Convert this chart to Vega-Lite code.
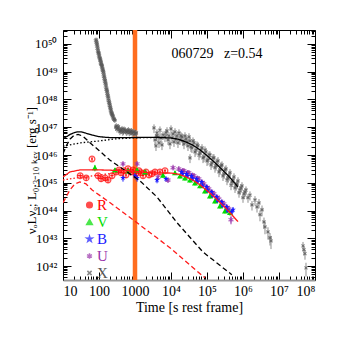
{
"$schema":"https://vega.github.io/schema/vega-lite/v6.json",
"width":252,"height":250,"autosize":"none",
"padding":{"left":63,"top":30,"right":29,"bottom":64},
"config":{"view":{"stroke":null},"font":"Liberation Serif",
 "axis":{"labelFont":"Liberation Serif","titleFont":"Liberation Serif","labelColor":"black","titleColor":"black","tickColor":"black","domainColor":"black","grid":false,"titleFontWeight":"normal"},
 "legend":{"orient":"none","legendX":19,"legendY":169,"labelFont":"Liberation Serif","labelFontSize":15,"symbolSize":32,"symbolStrokeWidth":1.5,"clipHeight":12,"rowPadding":2,"labelOffset":0,"padding":0}},
"datasets":{
"band":[{"t":1000}],
"note":[{"t":190000,"L":4.4e49,"txt":"060729\u00a0\u00a0\u00a0z=0.54"}],
"models":[
{"g":"X","c":"tot","t":10,"L":3.8e46},{"g":"X","c":"tot","t":12.6,"L":4.6e46},{"g":"X","c":"tot","t":15.8,"L":5.5e46},{"g":"X","c":"tot","t":20,"L":6.3e46},{"g":"X","c":"tot","t":25,"L":6.8e46},{"g":"X","c":"tot","t":31.6,"L":6.8e46},{"g":"X","c":"tot","t":39.8,"L":6.3e46},{"g":"X","c":"tot","t":50,"L":5.75e46},{"g":"X","c":"tot","t":63,"L":5.25e46},{"g":"X","c":"tot","t":79,"L":4.9e46},{"g":"X","c":"tot","t":100,"L":4.6e46},{"g":"X","c":"tot","t":158,"L":4.3e46},{"g":"X","c":"tot","t":251,"L":4.2e46},{"g":"X","c":"tot","t":631,"L":4.2e46},{"g":"X","c":"tot","t":1585,"L":4.3e46},{"g":"X","c":"tot","t":3981,"L":4.3e46},{"g":"X","c":"tot","t":10000,"L":4.1e46},{"g":"X","c":"tot","t":15850,"L":3.7e46},{"g":"X","c":"tot","t":25120,"L":3.0e46},{"g":"X","c":"tot","t":39810,"L":2.3e46},{"g":"X","c":"tot","t":63100,"L":1.55e46},{"g":"X","c":"tot","t":100000,"L":9.5e45},{"g":"X","c":"tot","t":158500,"L":5.6e45},{"g":"X","c":"tot","t":251200,"L":3.16e45},{"g":"X","c":"tot","t":398100,"L":1.74e45},{"g":"X","c":"tot","t":726000,"L":7.1e44},
{"g":"X","c":"aft","t":10,"L":2.1e46},{"g":"X","c":"aft","t":31.6,"L":2.75e46},{"g":"X","c":"aft","t":100,"L":3.2e46},{"g":"X","c":"aft","t":275,"L":3.8e46},{"g":"X","c":"aft","t":1000,"L":4.15e46},{"g":"X","c":"aft","t":3000,"L":4.25e46},
{"g":"X","c":"pr","t":10,"L":1.12e46},{"g":"X","c":"pr","t":12.6,"L":2.24e46},{"g":"X","c":"pr","t":15.8,"L":3.8e46},{"g":"X","c":"pr","t":20,"L":5.0e46},{"g":"X","c":"pr","t":26.3,"L":5.5e46},{"g":"X","c":"pr","t":35.5,"L":4.8e46},{"g":"X","c":"pr","t":56.2,"L":2.75e46},{"g":"X","c":"pr","t":100,"L":1.45e46},{"g":"X","c":"pr","t":200,"L":6.6e45},{"g":"X","c":"pr","t":603,"L":2.45e45},{"g":"X","c":"pr","t":1380,"L":1.17e45},{"g":"X","c":"pr","t":4070,"L":3.1e44},{"g":"X","c":"pr","t":14800,"L":3.6e43},{"g":"X","c":"pr","t":77600,"L":3.2e42},{"g":"X","c":"pr","t":490000,"L":4.9e41},
{"g":"O","c":"tot","t":10,"L":1.62e45},{"g":"O","c":"tot","t":15.5,"L":2.45e45},{"g":"O","c":"tot","t":29.5,"L":2.9e45},{"g":"O","c":"tot","t":107,"L":2.9e45},{"g":"O","c":"tot","t":724,"L":2.7e45},{"g":"O","c":"tot","t":2630,"L":2.3e45},{"g":"O","c":"tot","t":10000,"L":2.24e45},{"g":"O","c":"tot","t":15850,"L":2.04e45},{"g":"O","c":"tot","t":25120,"L":1.66e45},{"g":"O","c":"tot","t":39810,"L":1.26e45},{"g":"O","c":"tot","t":63100,"L":8.5e44},{"g":"O","c":"tot","t":100000,"L":5.25e44},{"g":"O","c":"tot","t":158500,"L":3.1e44},{"g":"O","c":"tot","t":251200,"L":1.74e44},{"g":"O","c":"tot","t":398100,"L":9.5e43},{"g":"O","c":"tot","t":726000,"L":4.0e43},
{"g":"O","c":"aft","t":10,"L":1.26e45},{"g":"O","c":"aft","t":31.6,"L":1.58e45},{"g":"O","c":"aft","t":100,"L":1.9e45},{"g":"O","c":"aft","t":251,"L":2.24e45},{"g":"O","c":"aft","t":1000,"L":2.5e45},{"g":"O","c":"aft","t":2630,"L":2.3e45},
{"g":"O","c":"pr","t":10,"L":1.9e44},{"g":"O","c":"pr","t":15.5,"L":5.5e44},{"g":"O","c":"pr","t":21.4,"L":9.1e44},{"g":"O","c":"pr","t":29.5,"L":1.07e45},{"g":"O","c":"pr","t":43.6,"L":9.1e44},{"g":"O","c":"pr","t":64.6,"L":5.5e44},{"g":"O","c":"pr","t":204,"L":1.9e44},{"g":"O","c":"pr","t":871,"L":4.7e43},{"g":"O","c":"pr","t":9330,"L":4.6e42},{"g":"O","c":"pr","t":87100,"L":3.8e41}
],
"pts":[
{"b":"X","t":83,"L":1.41e50,"e":2.8e49,"te":12},{"b":"X","t":85,"L":1.2e50,"e":2.4e49,"te":13},{"b":"X","t":87,"L":1.05e50,"e":2.1e49,"te":13},{"b":"X","t":89,"L":9e49,"e":1.8e49,"te":13},{"b":"X","t":91,"L":7.6e49,"e":1.5e49,"te":14},{"b":"X","t":93,"L":6.3e49,"e":1.3e49,"te":14},{"b":"X","t":95.5,"L":5.2e49,"e":1.04e49,"te":14},{"b":"X","t":97.7,"L":4.8e49,"e":9.6e48,"te":15},{"b":"X","t":100,"L":4.2e49,"e":8.4e48,"te":15},{"b":"X","t":102,"L":3.6e49,"e":7.2e48,"te":15},{"b":"X","t":105,"L":3.16e49,"e":6.3e48,"te":16},{"b":"X","t":107,"L":2.9e49,"e":5.8e48,"te":16},{"b":"X","t":110,"L":2.6e49,"e":5.2e48,"te":16},{"b":"X","t":112,"L":2.3e49,"e":4.6e48,"te":17},{"b":"X","t":115,"L":2.0e49,"e":4e48,"te":17},{"b":"X","t":117,"L":1.8e49,"e":3.6e48,"te":18},{"b":"X","t":120,"L":1.66e49,"e":3.3e48,"te":18},{"b":"X","t":123,"L":1.45e49,"e":2.9e48,"te":18},{"b":"X","t":126,"L":1.26e49,"e":2.5e48,"te":19},{"b":"X","t":129,"L":1.12e49,"e":2.2e48,"te":19},{"b":"X","t":132,"L":1.0e49,"e":2e48,"te":20},{"b":"X","t":135,"L":8.5e48,"e":1.7e48,"te":20},{"b":"X","t":138,"L":7.1e48,"e":1.4e48,"te":21},{"b":"X","t":141,"L":6.2e48,"e":1.2e48,"te":21},{"b":"X","t":145,"L":5.2e48,"e":1.04e48,"te":22},{"b":"X","t":148,"L":4.6e48,"e":9.2e47,"te":22},{"b":"X","t":151,"L":4.0e48,"e":8e47,"te":23},{"b":"X","t":155,"L":3.4e48,"e":6.8e47,"te":23},{"b":"X","t":158,"L":2.8e48,"e":5.6e47,"te":24},{"b":"X","t":162,"L":2.4e48,"e":4.8e47,"te":24},{"b":"X","t":166,"L":2.1e48,"e":4.2e47,"te":25},{"b":"X","t":170,"L":1.8e48,"e":3.6e47,"te":25},{"b":"X","t":174,"L":1.5e48,"e":3e47,"te":26},{"b":"X","t":178,"L":1.3e48,"e":2.6e47,"te":27},{"b":"X","t":182,"L":1.12e48,"e":2.2e47,"te":27},{"b":"X","t":186,"L":9.5e47,"e":1.9e47,"te":28},{"b":"X","t":191,"L":8.3e47,"e":1.7e47,"te":29},{"b":"X","t":195,"L":7.2e47,"e":1.4e47,"te":29},{"b":"X","t":200,"L":6.3e47,"e":1.3e47,"te":30},{"b":"X","t":204,"L":5.5e47,"e":1.1e47,"te":31},{"b":"X","t":209,"L":4.8e47,"e":9.6e46,"te":31},{"b":"X","t":214,"L":4.2e47,"e":8.4e46,"te":32},{"b":"X","t":219,"L":3.6e47,"e":7.2e46,"te":33},{"b":"X","t":224,"L":3.3e47,"e":6.6e46,"te":34},{"b":"X","t":229,"L":3.0e47,"e":6e46,"te":34},{"b":"X","t":234,"L":2.8e47,"e":5.6e46,"te":35},{"b":"X","t":240,"L":2.6e47,"e":5.2e46,"te":36},{"b":"X","t":248,"L":2.3e47,"e":4.6e46,"te":37},{"b":"X","t":257,"L":2.0e47,"e":4e46,"te":38},{"b":"X","t":266,"L":1.9e47,"e":3.8e46,"te":40},{"b":"X","t":275,"L":1.78e47,"e":3.6e46,"te":41},
{"b":"X","t":290,"L":1.0e47,"e":2.5e46,"te":29},{"b":"X","t":302,"L":1.12e47,"e":2.8e46,"te":30},{"b":"X","t":316,"L":8.5e46,"e":2.1e46,"te":32},{"b":"X","t":331,"L":9.5e46,"e":2.4e46,"te":33},{"b":"X","t":347,"L":1.05e47,"e":2.6e46,"te":35},{"b":"X","t":363,"L":8.3e46,"e":2.1e46,"te":36},{"b":"X","t":380,"L":7e46,"e":1.8e46,"te":38},{"b":"X","t":398,"L":7.6e46,"e":1.9e46,"te":40},{"b":"X","t":417,"L":8e46,"e":2e46,"te":42},{"b":"X","t":437,"L":8.9e46,"e":2.2e46,"te":44},{"b":"X","t":457,"L":6.5e46,"e":1.6e46,"te":46},{"b":"X","t":479,"L":7.1e46,"e":1.8e46,"te":48},{"b":"X","t":501,"L":8.5e46,"e":2.1e46,"te":50},{"b":"X","t":525,"L":7.9e46,"e":2e46,"te":52},{"b":"X","t":550,"L":7.3e46,"e":1.8e46,"te":55},{"b":"X","t":575,"L":6.6e46,"e":1.7e46,"te":58},{"b":"X","t":603,"L":6.8e46,"e":1.7e46,"te":60},{"b":"X","t":631,"L":7.6e46,"e":1.9e46,"te":63},{"b":"X","t":661,"L":8e46,"e":2e46,"te":66},{"b":"X","t":692,"L":6.3e46,"e":1.6e46,"te":69},{"b":"X","t":724,"L":6.5e46,"e":1.6e46,"te":72},{"b":"X","t":759,"L":7.1e46,"e":1.8e46,"te":76},{"b":"X","t":794,"L":7.5e46,"e":1.9e46,"te":79},{"b":"X","t":832,"L":6.0e46,"e":1.5e46,"te":83},{"b":"X","t":870,"L":6.2e46,"e":1.6e46,"te":87},{"b":"X","t":912,"L":6.6e46,"e":1.7e46,"te":91},{"b":"X","t":955,"L":7e46,"e":1.8e46,"te":95},{"b":"X","t":1000,"L":5.6e46,"e":1.4e46,"te":100},{"b":"X","t":1047,"L":6e46,"e":1.5e46,"te":105},{"b":"X","t":1096,"L":6.3e46,"e":1.6e46,"te":110},
{"b":"X","t":3373,"L":9.4e46,"e":3.3e46,"te":337},{"b":"X","t":3597,"L":3.5e46,"e":1.2e46,"te":360},{"b":"X","t":3828,"L":2.14e46,"e":7.5e45,"te":383},{"b":"X","t":3955,"L":4.9e46,"e":1.7e46,"te":395},{"b":"X","t":4083,"L":6.2e46,"e":2.2e46,"te":408},{"b":"X","t":4355,"L":4.5e46,"e":1.6e46,"te":436},{"b":"X","t":4645,"L":2.75e46,"e":9.6e45,"te":465},{"b":"X","t":4943,"L":7.9e46,"e":2.8e46,"te":494},{"b":"X","t":5272,"L":4.1e46,"e":1.4e46,"te":527},{"b":"X","t":5623,"L":2.3e46,"e":8e45,"te":562},{"b":"X","t":5998,"L":5.25e46,"e":1.8e46,"te":600},{"b":"X","t":6810,"L":4.5e46,"e":1.6e46,"te":681},{"b":"X","t":7260,"L":6.2e46,"e":2.2e46,"te":726},{"b":"X","t":7745,"L":7.4e46,"e":2.6e46,"te":775},{"b":"X","t":8260,"L":3.5e46,"e":1.2e46,"te":826},{"b":"X","t":8790,"L":4.9e46,"e":1.7e46,"te":879},{"b":"X","t":9380,"L":2.5e46,"e":8.8e45,"te":938},{"b":"X","t":10000,"L":8.7e46,"e":3e46,"te":1000},{"b":"X","t":10660,"L":4.1e46,"e":1.4e46,"te":1066},{"b":"X","t":11370,"L":5.75e46,"e":2e46,"te":1137},{"b":"X","t":12110,"L":2.95e46,"e":1e46,"te":1211},{"b":"X","t":12910,"L":6.8e46,"e":2.4e46,"te":1291},{"b":"X","t":13770,"L":3.8e46,"e":1.3e46,"te":1377},{"b":"X","t":14690,"L":4.9e46,"e":1.7e46,"te":1469},{"b":"X","t":15630,"L":2.75e46,"e":9.6e45,"te":1563},{"b":"X","t":16670,"L":6.2e46,"e":2.2e46,"te":1667},{"b":"X","t":17780,"L":3.5e46,"e":1.2e46,"te":1778},{"b":"X","t":18970,"L":4.9e46,"e":1.7e46,"te":1897},{"b":"X","t":20230,"L":4.5e46,"e":1.6e46,"te":2023},{"b":"X","t":21540,"L":3.2e46,"e":1.1e46,"te":2154},{"b":"X","t":22960,"L":2.5e46,"e":8.8e45,"te":2296},{"b":"X","t":24480,"L":4.9e46,"e":1.7e46,"te":2448},{"b":"X","t":26120,"L":3.8e46,"e":1.3e46,"te":2612},{"b":"X","t":27830,"L":2.95e46,"e":1e46,"te":2783},{"b":"X","t":29650,"L":2.14e46,"e":7.5e45,"te":2965},{"b":"X","t":31620,"L":4.5e46,"e":1.6e46,"te":3162},{"b":"X","t":33730,"L":3.2e46,"e":1.1e46,"te":3373},{"b":"X","t":33730,"L":7.9e45,"e":2.8e45,"te":3373},{"b":"X","t":35940,"L":1.95e46,"e":6.8e45,"te":3594},{"b":"X","t":38280,"L":1.82e46,"e":6.4e45,"te":3828},{"b":"X","t":40830,"L":3.2e46,"e":1.1e46,"te":4083},{"b":"X","t":43550,"L":2.75e46,"e":9.6e45,"te":4355},{"b":"X","t":46420,"L":1.29e46,"e":4.5e45,"te":4642},{"b":"X","t":49430,"L":1.51e46,"e":5.3e45,"te":4943},{"b":"X","t":52730,"L":2.3e46,"e":8e45,"te":5273},{"b":"X","t":56230,"L":2.14e46,"e":7.5e45,"te":5623},{"b":"X","t":59980,"L":1.0e46,"e":3.5e45,"te":5998},{"b":"X","t":63970,"L":1.2e46,"e":4.2e45,"te":6397},{"b":"X","t":68130,"L":1.51e46,"e":5.3e45,"te":6813},{"b":"X","t":72610,"L":1.82e46,"e":6.4e45,"te":7261},{"b":"X","t":77450,"L":7.9e45,"e":2.8e45,"te":7745},{"b":"X","t":82600,"L":8.5e45,"e":3e45,"te":8260},{"b":"X","t":87990,"L":1.51e46,"e":5.3e45,"te":8799},{"b":"X","t":93760,"L":1.29e46,"e":4.5e45,"te":9376},{"b":"X","t":100000,"L":6.2e45,"e":2.2e45,"te":10000},{"b":"X","t":106700,"L":6.6e45,"e":2.3e45,"te":10670},{"b":"X","t":113700,"L":1.0e46,"e":3.5e45,"te":11370},{"b":"X","t":121100,"L":1.0e46,"e":3.5e45,"te":12110},{"b":"X","t":129200,"L":4.4e45,"e":1.5e45,"te":12920},{"b":"X","t":137700,"L":5.25e45,"e":1.8e45,"te":13770},{"b":"X","t":146900,"L":7.9e45,"e":2.8e45,"te":14690},{"b":"X","t":156300,"L":7.9e45,"e":2.8e45,"te":15630},{"b":"X","t":166800,"L":3.5e45,"e":1.2e45,"te":16680},{"b":"X","t":177800,"L":4.1e45,"e":1.4e45,"te":17780},{"b":"X","t":189700,"L":5.6e45,"e":2e45,"te":18970},{"b":"X","t":202300,"L":6.2e45,"e":2.2e45,"te":20230},{"b":"X","t":215400,"L":2.45e45,"e":8.6e44,"te":21540},{"b":"X","t":229600,"L":2.9e45,"e":1e45,"te":22960},{"b":"X","t":244900,"L":4.1e45,"e":1.4e45,"te":24490},{"b":"X","t":261200,"L":4.4e45,"e":1.5e45,"te":26120},{"b":"X","t":278000,"L":1.78e45,"e":6.2e44,"te":27800},{"b":"X","t":296500,"L":2.1e45,"e":7.4e44,"te":29650},{"b":"X","t":316200,"L":2.9e45,"e":1e45,"te":31620},{"b":"X","t":337300,"L":3.16e45,"e":1.1e45,"te":33730},{"b":"X","t":359700,"L":1.26e45,"e":4.4e44,"te":35970},{"b":"X","t":382800,"L":1.5e45,"e":5.2e44,"te":38280},{"b":"X","t":408300,"L":1.78e45,"e":6.2e44,"te":40830},{"b":"X","t":435500,"L":2.3e45,"e":8e44,"te":43550},{"b":"X","t":464200,"L":8.3e44,"e":2.9e44,"te":46420},{"b":"X","t":494300,"L":1.07e45,"e":3.7e44,"te":49430},{"b":"X","t":527200,"L":1.26e45,"e":4.4e44,"te":52720},{"b":"X","t":562300,"L":1.62e45,"e":5.7e44,"te":56230},{"b":"X","t":599800,"L":6.6e44,"e":2.3e44,"te":59980},{"b":"X","t":639700,"L":7.8e44,"e":2.7e44,"te":63970},{"b":"X","t":680800,"L":9.1e44,"e":3.2e44,"te":68080},{"b":"X","t":726100,"L":1.17e45,"e":4.1e44,"te":72610},{"b":"X","t":774500,"L":4.4e44,"e":1.5e44,"te":77450},{"b":"X","t":826000,"L":5.5e44,"e":1.9e44,"te":82600},{"b":"X","t":879500,"L":6.6e44,"e":2.3e44,"te":87950},{"b":"X","t":937600,"L":7.8e44,"e":2.7e44,"te":93760},{"b":"X","t":1000000,"L":2.9e44,"e":1e44,"te":100000},{"b":"X","t":1067000,"L":4.0e44,"e":1.4e44,"te":106700},{"b":"X","t":1137000,"L":4.7e44,"e":1.6e44,"te":113700},{"b":"X","t":1211000,"L":5.5e44,"e":1.9e44,"te":121100},{"b":"X","t":1377000,"L":2.9e44,"e":1e44,"te":137700},{"b":"X","t":1563000,"L":3.6e44,"e":1.3e44,"te":156300},{"b":"X","t":1778000,"L":1.6e44,"e":6e43,"te":177800},{"b":"X","t":2154000,"L":2.4e44,"e":9e43,"te":215400},{"b":"X","t":2449000,"L":1.35e44,"e":5e43,"te":244900},{"b":"X","t":2780000,"L":1.9e44,"e":7e43,"te":278000},{"b":"X","t":2965000,"L":7.1e43,"e":3e43,"te":296500},{"b":"X","t":3373000,"L":1.07e44,"e":4.5e43,"te":337300},{"b":"X","t":3828000,"L":3.9e43,"e":1.7e43,"te":382800},{"b":"X","t":4083000,"L":2.6e43,"e":1.2e43,"te":408300},{"b":"X","t":4943000,"L":1.7e43,"e":8e42,"te":494300},{"b":"X","t":5623000,"L":1.05e43,"e":5e42,"te":562300},{"b":"X","t":5998000,"L":8.1e42,"e":4e42,"te":599800},{"b":"X","t":46450000,"L":5.4e42,"e":2e42,"te":2000000},{"b":"X","t":49430000,"L":3.9e42,"e":1.5e42,"te":2000000},{"b":"X","t":52720000,"L":2.8e42,"e":1.1e42,"te":2000000},{"b":"X","t":56230000,"L":8.7e41,"e":4.5e41,"te":2000000},
{"b":"R","t":30,"L":1.8e45,"e":3.5e44,"te":5},{"b":"R","t":44,"L":1.5e45,"e":3e44,"te":7},{"b":"R","t":64,"L":7.2e45,"e":1.2e45,"te":4},{"b":"R","t":94,"L":1.8e45,"e":3.5e44,"te":12},{"b":"R","t":114,"L":1.4e45,"e":3e44,"te":15},{"b":"R","t":147,"L":1.5e45,"e":3e44,"te":20},{"b":"R","t":178,"L":1.26e45,"e":2.5e44,"te":22},{"b":"R","t":230,"L":1.8e45,"e":3.5e44,"te":25},{"b":"R","t":297,"L":2.45e45,"e":5e44,"te":30},{"b":"R","t":360,"L":2.9e45,"e":5e44,"te":30},{"b":"R","t":408,"L":2.3e45,"e":4.5e44,"te":35},{"b":"R","t":494,"L":2.7e45,"e":5e44,"te":40},{"b":"R","t":562,"L":1.9e45,"e":4e44,"te":45},{"b":"R","t":640,"L":3.2e45,"e":6e44,"te":50},{"b":"R","t":774,"L":2.45e45,"e":5e44,"te":60},{"b":"R","t":879,"L":2.9e45,"e":5e44,"te":70},{"b":"R","t":1067,"L":2.1e45,"e":4e44,"te":80},{"b":"R","t":1290,"L":2.7e45,"e":5e44,"te":100},{"b":"R","t":1470,"L":2.3e45,"e":4.5e44,"te":110},{"b":"R","t":1670,"L":1.8e45,"e":3.5e44,"te":130},{"b":"R","t":2020,"L":2.45e45,"e":5e44,"te":150},{"b":"R","t":2450,"L":1.9e45,"e":4e44,"te":180},{"b":"R","t":2970,"L":2.1e45,"e":4e44,"te":220},{"b":"R","t":3600,"L":2.45e45,"e":5e44,"te":270},{"b":"R","t":4940,"L":2.45e45,"e":5e44,"te":370},{"b":"R","t":6810,"L":2.7e45,"e":5e44,"te":500},
{"b":"V","t":77,"L":3.5e45,"e":9e44,"te":3},{"b":"V","t":278,"L":2.9e45,"e":5e44,"te":15},{"b":"V","t":640,"L":2.7e45,"e":5e44,"te":30},{"b":"V","t":1140,"L":2.9e45,"e":5e44,"te":50},{"b":"V","t":1900,"L":2.45e45,"e":5e44,"te":80},{"b":"V","t":6000,"L":1.9e45,"e":4e44,"te":300},{"b":"V","t":12900,"L":2.3e45,"e":4e44,"te":600},{"b":"V","t":17780,"L":1.78e45,"e":3.5e44,"te":900},{"b":"V","t":24500,"L":1.5e45,"e":3e44,"te":1200},{"b":"V","t":33700,"L":1.26e45,"e":2.5e44,"te":1700},{"b":"V","t":46400,"L":1.0e45,"e":2e44,"te":2300},{"b":"V","t":64000,"L":7.8e44,"e":1.5e44,"te":3200},{"b":"V","t":87900,"L":5.1e44,"e":1e44,"te":4400},{"b":"V","t":121000,"L":3.4e44,"e":7e43,"te":6000},{"b":"V","t":167000,"L":2.24e44,"e":4.5e43,"te":8000},{"b":"V","t":230000,"L":1.48e44,"e":3e43,"te":11000},{"b":"V","t":316000,"L":9.8e43,"e":2e43,"te":16000},{"b":"V","t":436000,"L":8.5e43,"e":2e43,"te":22000},
{"b":"B","t":464,"L":1.5e45,"e":4e44,"te":25},{"b":"B","t":1000,"L":1.8e45,"e":4e44,"te":50},{"b":"B","t":1140,"L":1.5e45,"e":4e44,"te":50},{"b":"B","t":4090,"L":1.26e45,"e":3e44,"te":200},{"b":"B","t":7260,"L":1.38e45,"e":3e44,"te":350},{"b":"B","t":19500,"L":2.45e45,"e":4e44,"te":1000},{"b":"B","t":21000,"L":2.1e45,"e":4e44,"te":1000},{"b":"B","t":26900,"L":2.1e45,"e":4e44,"te":1300},{"b":"B","t":28700,"L":1.78e45,"e":3.5e44,"te":1400},{"b":"B","t":37000,"L":1.78e45,"e":3.5e44,"te":1800},{"b":"B","t":39500,"L":1.45e45,"e":3e44,"te":2000},{"b":"B","t":51000,"L":1.38e45,"e":3e44,"te":2500},{"b":"B","t":54300,"L":1.12e45,"e":2.2e44,"te":2700},{"b":"B","t":70300,"L":1.07e45,"e":2e44,"te":3500},{"b":"B","t":74700,"L":8.1e44,"e":1.6e44,"te":3700},{"b":"B","t":96600,"L":7.1e44,"e":1.4e44,"te":4800},{"b":"B","t":103000,"L":5.4e44,"e":1.1e44,"te":5000},{"b":"B","t":133000,"L":4.7e44,"e":9e43,"te":6600},{"b":"B","t":142000,"L":3.55e44,"e":7e43,"te":7000},{"b":"B","t":183000,"L":3.1e44,"e":6e43,"te":9000},{"b":"B","t":196000,"L":2.35e44,"e":5e43,"te":9800},{"b":"B","t":252000,"L":2.05e44,"e":4e43,"te":12000},{"b":"B","t":270000,"L":1.55e44,"e":3e43,"te":13000},{"b":"B","t":347000,"L":1.35e44,"e":3e43,"te":17000},{"b":"B","t":371000,"L":1.02e44,"e":2e43,"te":18000},{"b":"B","t":478000,"L":8.9e43,"e":2e43,"te":24000},{"b":"B","t":528000,"L":1.07e44,"e":2.5e43,"te":26000},
{"b":"U","t":464,"L":4.8e45,"e":8e44,"te":25},{"b":"U","t":1140,"L":4.8e45,"e":8e44,"te":50},{"b":"U","t":4360,"L":1.6e45,"e":3e44,"te":200},{"b":"U","t":8260,"L":1.26e45,"e":2.5e44,"te":400},{"b":"U","t":11400,"L":3.5e45,"e":6e44,"te":600},{"b":"U","t":16500,"L":3.16e45,"e":6e44,"te":800},{"b":"U","t":21000,"L":2.7e45,"e":5e44,"te":1000},{"b":"U","t":22800,"L":2.7e45,"e":5e44,"te":1100},{"b":"U","t":28700,"L":2.3e45,"e":4.5e44,"te":1400},{"b":"U","t":31300,"L":2.3e45,"e":4.5e44,"te":1500},{"b":"U","t":39500,"L":1.87e45,"e":3.5e44,"te":2000},{"b":"U","t":43200,"L":1.78e45,"e":3.5e44,"te":2100},{"b":"U","t":54300,"L":1.45e45,"e":3e44,"te":2700},{"b":"U","t":59500,"L":1.38e45,"e":2.8e44,"te":3000},{"b":"U","t":74700,"L":1.03e45,"e":2e44,"te":3700},{"b":"U","t":81700,"L":9.1e44,"e":1.8e44,"te":4000},{"b":"U","t":103000,"L":6.8e44,"e":1.4e44,"te":5000},{"b":"U","t":112500,"L":6.0e44,"e":1.2e44,"te":5600},{"b":"U","t":142000,"L":4.5e44,"e":9e43,"te":7000},{"b":"U","t":155000,"L":4.0e44,"e":8e43,"te":7700},{"b":"U","t":196000,"L":3.0e44,"e":6e43,"te":9800},{"b":"U","t":214000,"L":2.6e44,"e":5e43,"te":10000},{"b":"U","t":270000,"L":1.97e44,"e":4e43,"te":13000},{"b":"U","t":294000,"L":1.74e44,"e":3.5e43,"te":14000},{"b":"U","t":371000,"L":1.3e44,"e":2.6e43,"te":18000},{"b":"U","t":405000,"L":1.15e44,"e":2.3e43,"te":20000},{"b":"U","t":464000,"L":4.7e43,"e":1.5e43,"te":23000}
]},
"resolve":{"axis":{"x":"independent","y":"independent"}},
"layer":[
{"layer":[
 {"data":{"name":"band"},"mark":{"type":"rule","color":"#ff6d1f","strokeWidth":4.5},
  "encoding":{"x":{"field":"t","type":"quantitative","title":"Time [s rest frame]","scale":{"type":"log","domain":[10,100000000],"nice":false},
   "axis":{"orient":"bottom","tickCount":100,"labelOverlap":false,"labelBound":false,"labelFontSize":14,"titleFontSize":14,"labelPadding":12,"domainColor":"#999","domainWidth":2,"titleY":27,"titleBaseline":"middle",
    "tickSize":{"condition":{"test":"abs(log(datum.value)/LN10-round(log(datum.value)/LN10))<0.001","value":-8},"value":-4},
    "labelExpr":"abs(log(datum.value)/LN10-round(log(datum.value)/LN10))<0.001 ? (datum.value<10000 ? format(datum.value,'d') : '10'+substring('⁰¹²³⁴⁵⁶⁷⁸⁹',round(log(datum.value)/LN10),round(log(datum.value)/LN10)+1)) : ''"}}}},
 {"data":{"name":"pts"},"transform":[{"filter":"datum.b=='X'"}],"mark":{"type":"errorbar","color":"#8f8f8f","thickness":1},
  "encoding":{"x":{"field":"t","type":"quantitative","title":"Time [s rest frame]"},"y":{"field":"L","type":"quantitative","title":"νₒLνₒ;  L₀.₃₋₁₀ ₖₑᵥ  [erg s⁻¹]"},"yError":{"field":"e"}}},
 {"data":{"name":"pts"},"transform":[{"filter":"datum.b=='X'"}],"mark":{"type":"errorbar","color":"#8f8f8f","thickness":1},
  "encoding":{"x":{"field":"t","type":"quantitative","title":"Time [s rest frame]"},"xError":{"field":"te"},"y":{"field":"L","type":"quantitative","title":"νₒLνₒ;  L₀.₃₋₁₀ ₖₑᵥ  [erg s⁻¹]"}}},
 {"data":{"name":"pts"},"transform":[{"filter":"datum.b=='X'"}],"mark":{"type":"point","filled":false,"size":16,"strokeWidth":1.1},
  "encoding":{"x":{"field":"t","type":"quantitative","title":"Time [s rest frame]"},"y":{"field":"L","type":"quantitative","title":"νₒLνₒ;  L₀.₃₋₁₀ ₖₑᵥ  [erg s⁻¹]"},
   "color":{"field":"b","type":"nominal","scale":{"domain":["R","V","B","U","X"],"range":["#ff0000","#00dd00","#1a1aff","#9933aa","#555555"]},"legend":{"title":null,"labelColor":{"expr":"scale('color', datum.value)"},"symbolFillColor":{"expr":"(datum.value=='V'||datum.value=='B') ? scale('color', datum.value) : 'transparent'"},"symbolStrokeColor":{"expr":"scale('color', datum.value)"}}},
   "shape":{"field":"b","type":"nominal","scale":{"domain":["R","V","B","U","X"],"range":["circle","triangle-up","M0,-1L0.223,-0.307L0.951,-0.309L0.361,0.117L0.588,0.809L0,0.38L-0.588,0.809L-0.361,0.117L-0.951,-0.309L-0.223,-0.307Z","M0,-1L0,1M-0.87,-0.5L0.87,0.5M-0.87,0.5L0.87,-0.5","M-0.75,-0.75L0.75,0.75M-0.75,0.75L0.75,-0.75"]},"legend":{"title":null,"labelColor":{"expr":"scale('color', datum.value)"},"symbolFillColor":{"expr":"(datum.value=='V'||datum.value=='B') ? scale('color', datum.value) : 'transparent'"},"symbolStrokeColor":{"expr":"scale('color', datum.value)"}}}}},
 {"data":{"name":"pts"},"transform":[{"filter":"datum.b!='X'"}],"mark":{"type":"errorbar","thickness":1},
  "encoding":{"x":{"field":"t","type":"quantitative","title":"Time [s rest frame]"},"y":{"field":"L","type":"quantitative","title":"νₒLνₒ;  L₀.₃₋₁₀ ₖₑᵥ  [erg s⁻¹]"},"yError":{"field":"e"},"color":{"field":"b","type":"nominal","legend":null}}},
 {"data":{"name":"pts"},"transform":[{"filter":"datum.b!='X'"}],"mark":{"type":"errorbar","thickness":1},
  "encoding":{"x":{"field":"t","type":"quantitative","title":"Time [s rest frame]"},"xError":{"field":"te"},"y":{"field":"L","type":"quantitative","title":"νₒLνₒ;  L₀.₃₋₁₀ ₖₑᵥ  [erg s⁻¹]"},"color":{"field":"b","type":"nominal","legend":null}}},
 {"data":{"name":"pts"},"transform":[{"filter":"datum.b=='R'||datum.b=='U'"}],"mark":{"type":"point","filled":false,"size":32,"strokeWidth":1.3},
  "encoding":{"x":{"field":"t","type":"quantitative","title":"Time [s rest frame]"},"y":{"field":"L","type":"quantitative","title":"νₒLνₒ;  L₀.₃₋₁₀ ₖₑᵥ  [erg s⁻¹]"},
   "color":{"field":"b","type":"nominal","legend":{"title":null,"labelColor":{"expr":"scale('color', datum.value)"},"symbolFillColor":{"expr":"(datum.value=='V'||datum.value=='B') ? scale('color', datum.value) : 'transparent'"},"symbolStrokeColor":{"expr":"scale('color', datum.value)"}}},
   "shape":{"field":"b","type":"nominal","legend":{"title":null,"labelColor":{"expr":"scale('color', datum.value)"},"symbolFillColor":{"expr":"(datum.value=='V'||datum.value=='B') ? scale('color', datum.value) : 'transparent'"},"symbolStrokeColor":{"expr":"scale('color', datum.value)"}}}}},
 {"data":{"name":"pts"},"transform":[{"filter":"datum.b=='V'||datum.b=='B'"}],"mark":{"type":"point","filled":true,"size":36,"opacity":1},
  "encoding":{"x":{"field":"t","type":"quantitative","title":"Time [s rest frame]"},"y":{"field":"L","type":"quantitative","title":"νₒLνₒ;  L₀.₃₋₁₀ ₖₑᵥ  [erg s⁻¹]"},
   "color":{"field":"b","type":"nominal","legend":{"title":null,"labelColor":{"expr":"scale('color', datum.value)"},"symbolFillColor":{"expr":"(datum.value=='V'||datum.value=='B') ? scale('color', datum.value) : 'transparent'"},"symbolStrokeColor":{"expr":"scale('color', datum.value)"}}},
   "shape":{"field":"b","type":"nominal","legend":{"title":null,"labelColor":{"expr":"scale('color', datum.value)"},"symbolFillColor":{"expr":"(datum.value=='V'||datum.value=='B') ? scale('color', datum.value) : 'transparent'"},"symbolStrokeColor":{"expr":"scale('color', datum.value)"}}}}},
 {"data":{"name":"models"},"transform":[{"filter":"datum.g=='X'"}],"mark":{"type":"line","color":"black","strokeWidth":1.3,"clip":true},
  "encoding":{"x":{"field":"t","type":"quantitative","title":"Time [s rest frame]"},
   "y":{"field":"L","type":"quantitative","title":"νₒLνₒ;  L₀.₃₋₁₀ ₖₑᵥ  [erg s⁻¹]","scale":{"type":"log","domain":[3.1623e41,3.1623e50],"nice":false},
    "axis":{"orient":"left","tickCount":100,"labelOverlap":false,"labelBound":false,"labelFontSize":13,"titleFontSize":13,"labelPadding":14,"titleX":-32,"titleY":140,"titleAngle":-90,"titleAlign":"center","titleBaseline":"middle",
     "tickSize":{"condition":{"test":"abs(log(datum.value)/LN10-round(log(datum.value)/LN10))<0.001","value":-8},"value":-4},
     "labelExpr":"abs(log(datum.value)/LN10-round(log(datum.value)/LN10))<0.001 ? '10'+substring('⁰¹²³⁴⁵⁶⁷⁸⁹',floor(round(log(datum.value)/LN10)/10),floor(round(log(datum.value)/LN10)/10)+1)+substring('⁰¹²³⁴⁵⁶⁷⁸⁹',round(log(datum.value)/LN10)%10,round(log(datum.value)/LN10)%10+1) : ''"}},
   "strokeDash":{"field":"c","type":"nominal","scale":{"domain":["tot","aft","pr"],"range":[[1,0],[1.5,2],[5,3]]},"legend":null}}},
 {"data":{"name":"models"},"transform":[{"filter":"datum.g=='O'"}],"mark":{"type":"line","color":"#ff1a1a","strokeWidth":1.3,"clip":true},
  "encoding":{"x":{"field":"t","type":"quantitative","title":"Time [s rest frame]"},"y":{"field":"L","type":"quantitative","title":"νₒLνₒ;  L₀.₃₋₁₀ ₖₑᵥ  [erg s⁻¹]"},
   "strokeDash":{"field":"c","type":"nominal","legend":null}}}
]},
{"data":{"name":"note"},"mark":{"type":"text","fontSize":14,"font":"Liberation Serif","align":"center","baseline":"middle"},
 "encoding":{"x":{"field":"t","type":"quantitative","axis":{"orient":"top","title":null,"labels":false,"tickCount":100,"domainColor":"black",
   "tickSize":{"condition":{"test":"abs(log(datum.value)/LN10-round(log(datum.value)/LN10))<0.001","value":-8},"value":-4}}},
  "y":{"field":"L","type":"quantitative","axis":{"orient":"right","title":null,"labels":false,"tickCount":100,"domainColor":"black",
   "tickSize":{"condition":{"test":"abs(log(datum.value)/LN10-round(log(datum.value)/LN10))<0.001","value":-8},"value":-4}}},
  "text":{"field":"txt"}}}
]
}
